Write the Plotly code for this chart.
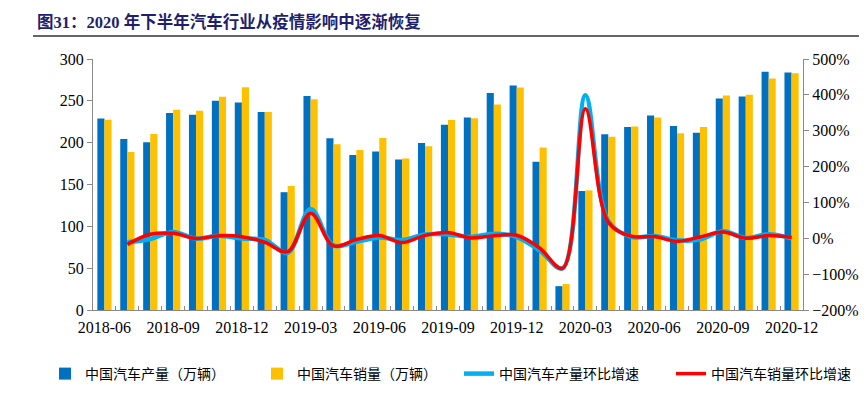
import plotly.graph_objects as go

months = ["2018-06","2018-07","2018-08","2018-09","2018-10","2018-11","2018-12",
          "2019-01","2019-02","2019-03","2019-04","2019-05","2019-06","2019-07",
          "2019-08","2019-09","2019-10","2019-11","2019-12","2020-01","2020-02",
          "2020-03","2020-04","2020-05","2020-06","2020-07","2020-08","2020-09",
          "2020-10","2020-11","2020-12"]

production = [229.0, 204.5, 200.4, 235.6, 233.5, 250.2, 248.1,
              236.6, 140.8, 255.8, 205.2, 185.3, 189.4, 180.0,
              199.7, 221.4, 230.1, 259.4, 268.4, 177.3, 28.5,
              142.2, 210.2, 218.7, 232.5, 219.9, 211.9, 252.7,
              255.3, 284.7, 284.0]

sales = [227.4, 188.9, 210.3, 239.4, 238.0, 254.8, 266.1,
         236.7, 148.2, 252.0, 198.0, 191.3, 205.6, 181.0,
         195.8, 227.1, 229.1, 245.5, 265.9, 194.1, 31.0,
         143.0, 207.0, 219.4, 230.0, 211.2, 218.6, 256.5,
         257.3, 276.6, 283.1]

# month-on-month growth (%), starting 2018-07
growth_months = months[1:]
production_mom = [-10.7, -2.0, 17.6, -0.9, 7.2, -0.8,
                  -4.6, -40.5, 81.7, -19.8, -9.7, 2.2, -5.0,
                  10.9, 10.9, 3.9, 12.7, 3.5, -33.9, -83.9,
                  399.0, 47.8, 4.0, 6.3, -5.4, -3.6, 19.3,
                  1.0, 11.5, -0.2]
sales_mom = [-16.9, 11.3, 13.8, -0.6, 7.1, 4.4,
             -11.0, -37.4, 70.0, -21.4, -3.4, 7.5, -12.0,
             8.2, 16.0, 0.9, 7.2, 8.3, -27.0, -84.0,
             361.0, 44.8, 6.0, 4.8, -8.2, 3.5, 17.3,
             0.3, 7.5, 2.3]

tick_text = [m if i % 3 == 0 else "" for i, m in enumerate(months)]

serif = "Liberation Serif, Noto Sans CJK SC"
cjk = "Noto Sans CJK SC"
axis_grey = "#898989"

fig = go.Figure()
fig.add_trace(go.Bar(x=months, y=production, name="中国汽车产量（万辆）",
                     marker=dict(color="#0070C0", line=dict(width=0)), legend="legend"))
fig.add_trace(go.Bar(x=months, y=sales, name="中国汽车销量（万辆）",
                     marker=dict(color="#FFC000", line=dict(width=0)), legend="legend"))
fig.add_trace(go.Scatter(x=growth_months, y=production_mom, name="中国汽车产量环比增速",
                         yaxis="y2", mode="lines", legend="legend2",
                         line=dict(color="#00B0F0", width=4.5, shape="spline", smoothing=1.0)))
fig.add_trace(go.Scatter(x=growth_months, y=sales_mom, name="中国汽车销量环比增速",
                         yaxis="y2", mode="lines", legend="legend2",
                         line=dict(color="#FF0000", width=3.5, shape="spline", smoothing=1.0)))

legend_common = dict(orientation="h", xanchor="left", y=-0.255, yanchor="middle",
                     entrywidth=167, entrywidthmode="pixels", traceorder="normal",
                     font=dict(family=cjk, size=14, color="#000000"),
                     bgcolor="rgba(0,0,0,0)")

fig.update_layout(
    width=859, height=405,
    margin=dict(l=85, r=64, t=51, b=103, autoexpand=False),
    paper_bgcolor="white", plot_bgcolor="white",
    barmode="group", bargap=0.38, bargroupgap=0,
    font=dict(family=serif, size=16, color="#000000"),
    xaxis=dict(type="category", categoryorder="array", categoryarray=months,
               tickmode="array", tickvals=months, ticktext=tick_text, tickangle=0,
               tickson="boundaries", ticks="inside", ticklen=4, tickcolor=axis_grey,
               showline=True, linecolor=axis_grey, linewidth=1, ticklabelstandoff=3,
               showgrid=False, zeroline=False, automargin=False,
               tickfont=dict(family=serif, size=16), range=[-0.5, 30.5]),
    yaxis=dict(range=[0, 300], dtick=50, showgrid=False, zeroline=False,
               showline=True, linecolor=axis_grey, linewidth=1, automargin=False,
               ticks="outside", ticklen=5, tickcolor=axis_grey,
               tickfont=dict(family=serif, size=16)),
    yaxis2=dict(range=[-200, 500], dtick=100, overlaying="y", side="right",
                ticksuffix="%", showgrid=False, zeroline=False, automargin=False,
                showline=True, linecolor=axis_grey, linewidth=1,
                ticks="outside", ticklen=5, tickcolor=axis_grey,
                tickfont=dict(family=serif, size=16)),
    legend=dict(x=-0.0676, **legend_common),
    legend2=dict(x=0.5155, **legend_common),
    showlegend=True,
)

fig.add_annotation(text="<b>图31：2020 年下半年汽车行业从疫情影响中逐渐恢复</b>",
                   xref="paper", yref="paper", x=-0.0817, y=1.147,
                   xanchor="left", yanchor="middle", showarrow=False,
                   font=dict(family=serif, size=16.5, color="#1F1F6E"))
fig.add_shape(type="line", xref="paper", yref="paper",
              x0=-0.0845, x1=1.09, y0=1.0916, y1=1.0916,
              line=dict(color="#333333", width=1.5))

fig.write_html("out.html")
